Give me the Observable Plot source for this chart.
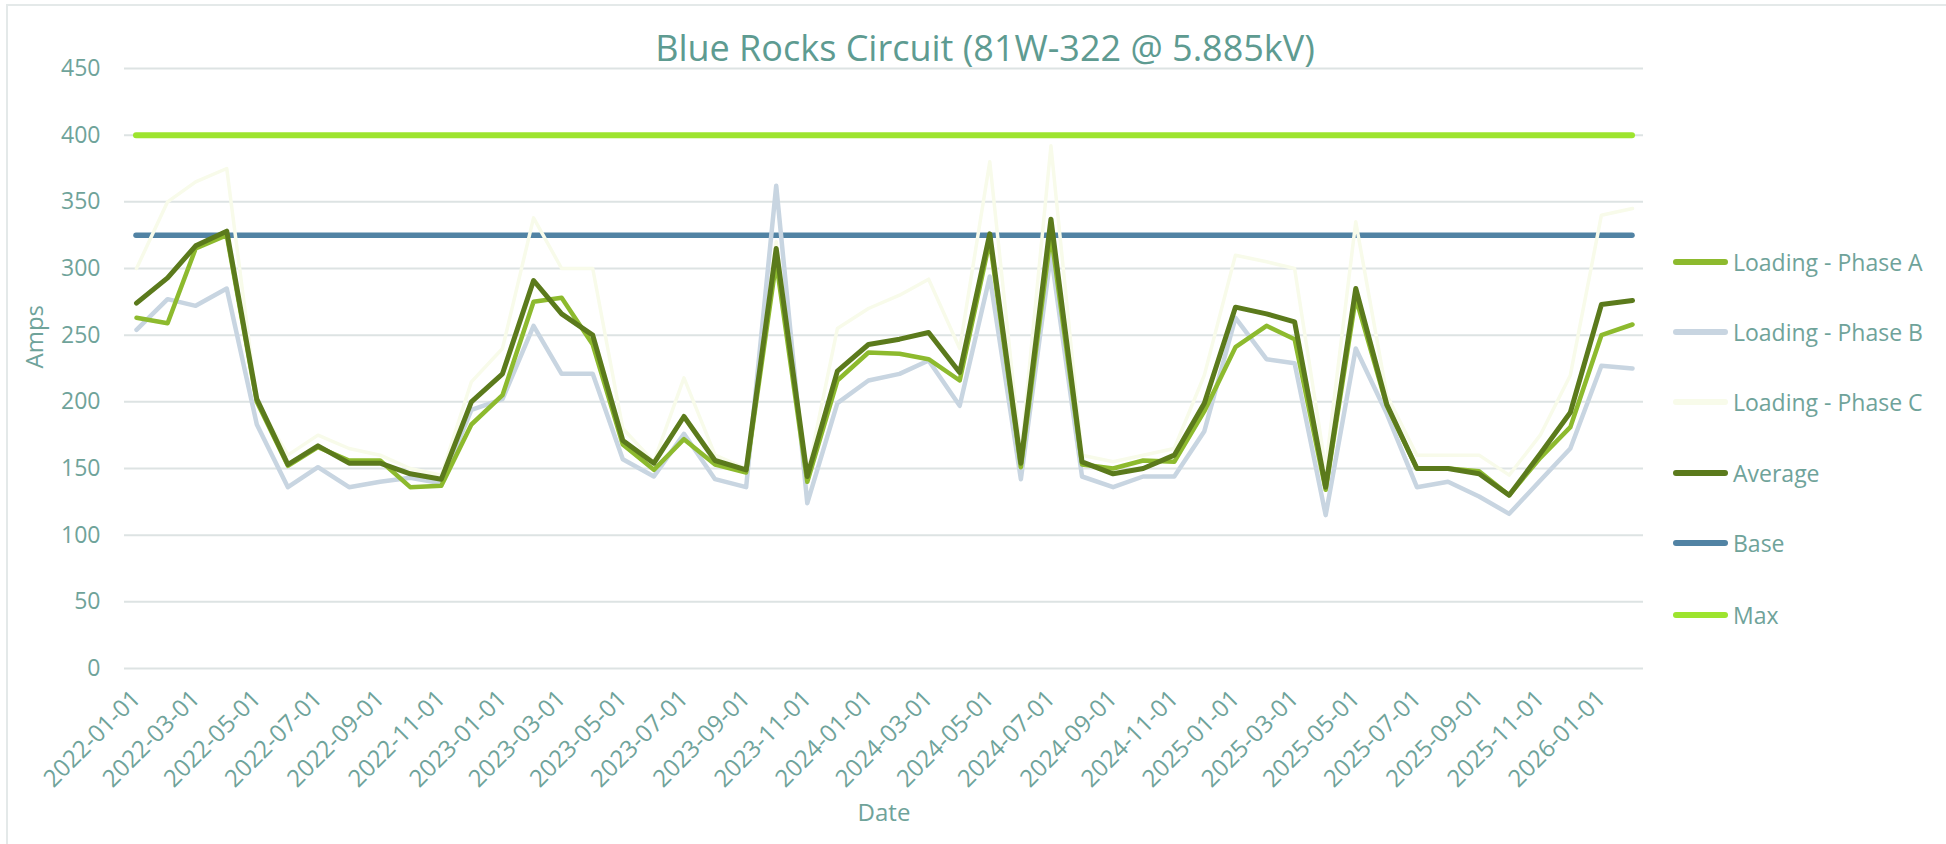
<!DOCTYPE html>
<html>
<head>
<meta charset="utf-8">
<script src="https://cdn.jsdelivr.net/npm/d3@7"></script>
<script src="https://cdn.jsdelivr.net/npm/@observablehq/plot@0.6"></script>
<style>
  body { margin: 0; background: #ffffff; font-family: "Open Sans", Lato, sans-serif; }
  #wrap { position: relative; width: 1946px; height: 844px; overflow: hidden; background: #fff; }
  #border { position: absolute; left: 6px; top: 4px; width: 1960px; height: 860px; border: 2px solid #e4e9e9; box-sizing: border-box; pointer-events: none; }
  #title { position: absolute; top: 30px; left: 985px; transform: translateX(-50%); font-size: 36px; line-height: 1; color: #5e9b91; white-space: nowrap; }
  #chart { position: absolute; left: 0; top: 0; }
  .leg { position: absolute; left: 1673px; height: 32px; display: flex; align-items: center; font-size: 23px; color: #6fa39a; white-space: nowrap; }
  .leg .sw { width: 55px; height: 6px; border-radius: 3px; margin-right: 5px; }
</style>
</head>
<body>
<div id="wrap">
  <div id="border"></div>
  <div id="chart"></div>
  <div id="title">Blue Rocks Circuit (81W-322 @ 5.885kV)</div>
  <div id="legend"></div>
</div>
<script>
// ---- Data ----
const dates = [
  "2022-01-01","2022-02-01","2022-03-01","2022-04-01","2022-05-01","2022-06-01","2022-07-01","2022-08-01","2022-09-01","2022-10-01",
  "2022-11-01","2022-12-01","2023-01-01","2023-02-01","2023-03-01","2023-04-01","2023-05-01","2023-06-01","2023-07-01","2023-08-01",
  "2023-09-01","2023-10-01","2023-11-01","2023-12-01","2024-01-01","2024-02-01","2024-03-01","2024-04-01","2024-05-01","2024-06-01",
  "2024-07-01","2024-08-01","2024-09-01","2024-10-01","2024-11-01","2024-12-01","2025-01-01","2025-02-01","2025-03-01","2025-04-01",
  "2025-05-01","2025-06-01","2025-07-01","2025-08-01","2025-09-01","2025-10-01","2025-11-01","2025-12-01","2026-01-01","2026-02-01"
];
const phaseA = [263,259,315,325,200,152,166,156,156,136, 137,183,205,275,278,243,168,149,172,153,
                147,305,140,216,237,236,232,216,321,151, 326,153,150,156,155,193,241,257,247,134,
                278,197,150,150,148,130,158,181,250,258];
const phaseB = [254,277,272,285,183,136,151,136,140,143, 139,194,202,257,221,221,157,144,176,142,
                136,362,124,199,216,221,231,197,294,142, 311,144,136,144,144,178,263,232,229,115,
                240,191,136,140,129,116,141,165,227,225];
const phaseC = [300,350,365,375,200,160,175,165,160,150, 145,215,240,338,300,300,180,155,218,160,
                150,320,145,255,270,280,292,240,380,160, 392,160,155,160,165,220,310,305,300,150,
                335,205,160,160,160,145,175,220,340,345];
const average = [274,293,317,328,202,153,167,154,154,146, 142,200,221,291,266,250,171,154,189,156,
                 149,315,144,223,243,247,252,222,326,154, 337,155,146,150,160,199,271,266,260,136,
                 285,198,150,150,146,130,161,192,273,276];
const baseAmps = 325;
const maxAmps = 400;
const yTicks = [0,50,100,150,200,250,300,350,400,450];
const xTickLabels = ["2022-01-01","2022-03-01","2022-05-01","2022-07-01","2022-09-01","2022-11-01",
  "2023-01-01","2023-03-01","2023-05-01","2023-07-01","2023-09-01","2023-11-01",
  "2024-01-01","2024-03-01","2024-05-01","2024-07-01","2024-09-01","2024-11-01",
  "2025-01-01","2025-03-01","2025-05-01","2025-07-01","2025-09-01","2025-11-01","2026-01-01"];
const seriesNames = ["Loading - Phase A","Loading - Phase B","Loading - Phase C","Average","Base","Max"];
const seriesColors = ["#8dba2e","#c8d5e1","#f8fbea","#5b7a1c","#5183a4","#9de42e"];

// ---- Build table ----
const parse = d3.utcParse("%Y-%m-%d");
const rows = dates.map((d, i) => ({date: parse(d), a: phaseA[i], b: phaseB[i], c: phaseC[i], avg: average[i]}));
const tickDates = xTickLabels.map(parse);
const first = rows[0].date, last = rows[rows.length - 1].date;
const textColor = "#6fa39a";

const chart = Plot.plot({
  width: 1946,
  height: 844,
  marginLeft: 124,
  marginRight: 303,
  marginTop: 68,
  marginBottom: 176,
  x: {type: "utc", domain: [first, last], insetLeft: 12, insetRight: 11},
  y: {domain: [0, 450]},
  style: {fontFamily: "'Open Sans', Lato, sans-serif", color: textColor, background: "transparent", overflow: "visible"},
  marks: [
    Plot.ruleY(yTicks, {stroke: "#dde3e3", strokeWidth: 2}),
    Plot.axisY(yTicks, {tickSize: 0, tickPadding: 24, fontSize: 23, label: null, fill: textColor}),
    Plot.axisX(tickDates, {tickSize: 0, tickPadding: 26, tickRotate: -45, fontSize: 24, label: null, fill: textColor,
      tickFormat: d3.utcFormat("%Y-%m-%d")}),
    Plot.text(["Amps"], {frameAnchor: "left", dx: -89, rotate: -90, fontSize: 24, fill: textColor}),
    Plot.text(["Date"], {frameAnchor: "bottom", dy: 152, fontSize: 24, fill: textColor}),
    Plot.ruleY([baseAmps], {x1: first, x2: last, stroke: seriesColors[4], strokeWidth: 5.5, strokeLinecap: "round"}),
    Plot.ruleY([maxAmps], {x1: first, x2: last, stroke: seriesColors[5], strokeWidth: 6, strokeLinecap: "round"}),
    Plot.line(rows, {x: "date", y: "c", stroke: seriesColors[2], strokeWidth: 3.5}),
    Plot.line(rows, {x: "date", y: "b", stroke: seriesColors[1], strokeWidth: 4.5}),
    Plot.line(rows, {x: "date", y: "a", stroke: seriesColors[0], strokeWidth: 4.5}),
    Plot.line(rows, {x: "date", y: "avg", stroke: seriesColors[3], strokeWidth: 5})
  ]
});
document.getElementById("chart").appendChild(chart);

// ---- Legend ----
const legendY = [262, 332, 402, 473, 543, 615];
const legend = document.getElementById("legend");
seriesNames.forEach((name, i) => {
  const item = document.createElement("div");
  item.className = "leg";
  item.style.top = (legendY[i] - 16) + "px";
  const sw = document.createElement("span");
  sw.className = "sw";
  sw.style.background = seriesColors[i];
  const label = document.createElement("span");
  label.textContent = name;
  item.appendChild(sw);
  item.appendChild(label);
  legend.appendChild(item);
});
</script>
</body>
</html>
